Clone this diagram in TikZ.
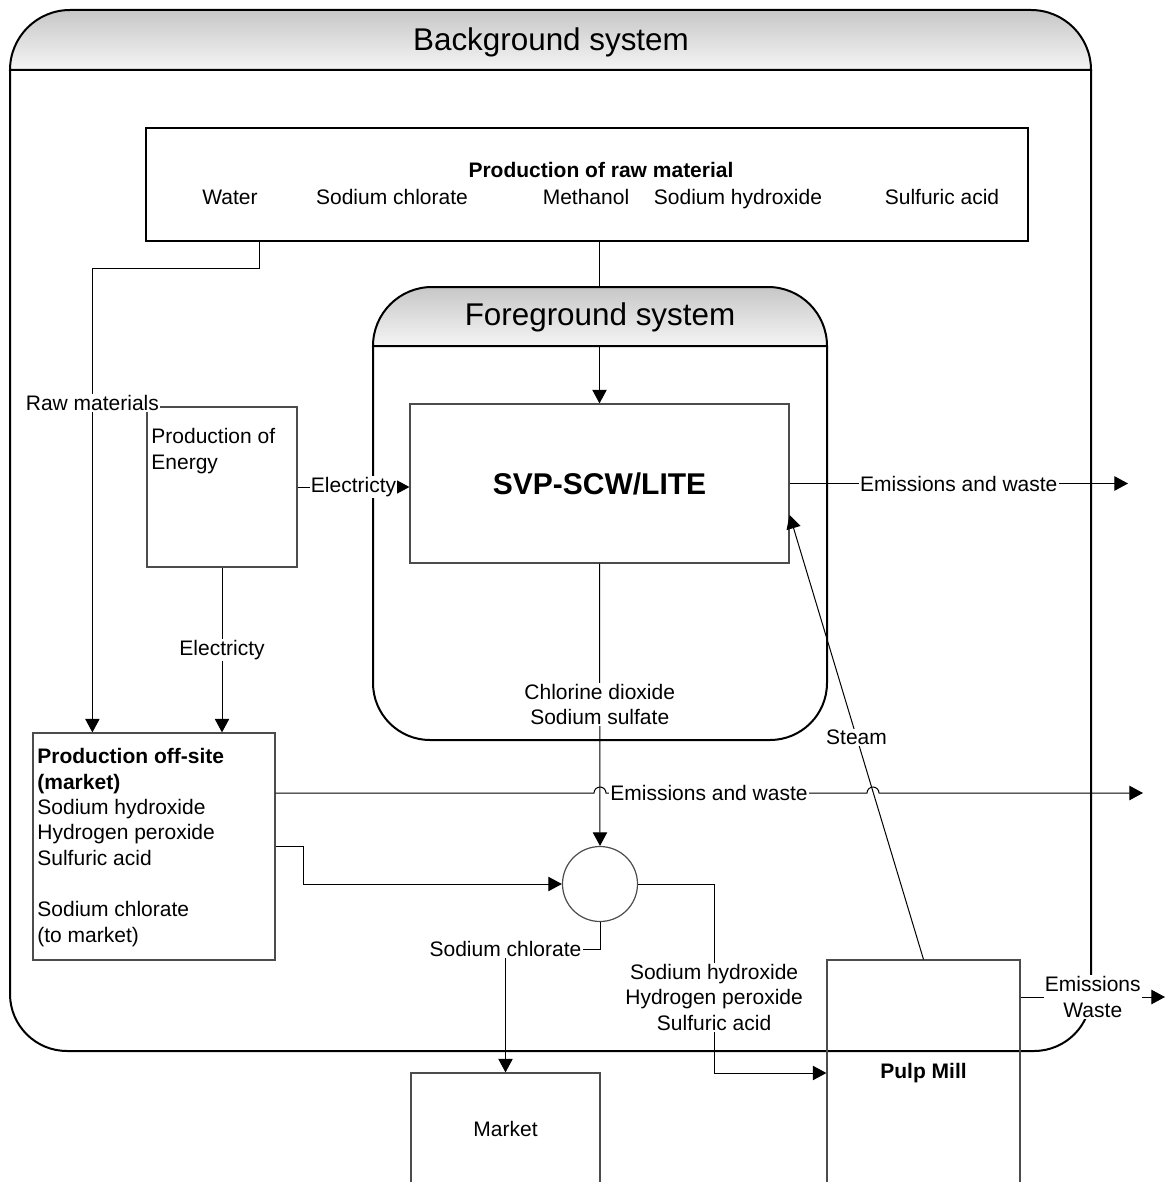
\documentclass[tikz,border=0pt]{standalone}
\usepackage{fontspec}
\setmainfont{Liberation Sans}
\usetikzlibrary{arrows.meta,calc}

\begin{document}
\begin{tikzpicture}[x=0.5pt,y=-0.5pt,
  every node/.style={font=\fontsize{10.5}{12.7}\selectfont},
  box/.style={draw=black!70,line width=0.6pt,rectangle,inner sep=0pt},
  frame/.style={draw=black,line width=1pt},
  head/.style={frame,top color=black!22,bottom color=black!4},
  flow/.style={draw=black,line width=0.5pt,-{Triangle[length=6.8pt,width=7.2pt]}},
  lbl/.style={fill=white,inner sep=0.6pt},
  title/.style={font=\fontsize{15.7}{18}\selectfont,anchor=base},
  item/.style={anchor=base}]
  \clip (0,0) rectangle (1166,1182);
  %
  % background system
  \draw[frame] (10,70) -- (10,994) arc(180:270:28.5pt) -- (1034,1051) arc(270:360:28.5pt) -- (1091,70);
  \path[head] (10,70) arc(180:90:30pt) -- (1031,10) arc(90:0:30pt) -- cycle;
  \node[title] (bgtitle) at (551,51) {Background system};
  %
  % production of raw material
  \node[box,draw=black,line width=0.9pt,minimum width=441pt,minimum height=56.5pt] (raw) at (587,184.5) {};
  \node[item,font=\bfseries\fontsize{10.5}{12.7}\selectfont] (rawtitle) at (601,177.5) {Production of raw material};
  \node[item] (water) at (230,204.5) {Water};
  \node[item] (chlorate) at (392,204.5) {Sodium chlorate};
  \node[item] (methanol) at (586,204.5) {Methanol};
  \node[item] (hydroxide) at (738,204.5) {Sodium hydroxide};
  \node[item] (sulfuric) at (942,204.5) {Sulfuric acid};
  %
  % foreground system
  \node[box,minimum width=189.5pt,minimum height=79.5pt,font=\bfseries\fontsize{15}{18}\selectfont] (svp) at (599.5,483.5) {SVP-SCW/LITE};
  \draw[flow] (svp.north |- raw.south) -- (svp.north);
  \draw[frame] (373,346) -- (373,683) arc(180:270:28.5pt) -- (770,740) arc(270:360:28.5pt) -- (827,346);
  \path[head] (373,346) arc(180:90:29.5pt) -- (768,287) arc(90:0:29.5pt) -- cycle;
  \node[title] (fgtitle) at (600,325.5) {Foreground system};
  %
  % energy and off-site production
  \node[box,minimum width=75pt,minimum height=80pt] (energy) at (222,487) {};
  \node[anchor=north west,align=left,inner sep=0pt] (energytext) at (151,428) {Production of\\Energy};
  \node[box,minimum width=121pt,minimum height=113.5pt] (offsite) at (154,846.5) {};
  \node[anchor=north west,align=left,inner sep=0pt] (offtext) at (37,748) {\textbf{Production off-site}\\\textbf{(market)}\\Sodium hydroxide\\Hydrogen peroxide\\Sulfuric acid\\[13pt]Sodium chlorate\\(to market)};
  %
  % mixing, market, pulp mill
  \node[draw=black!70,line width=0.6pt,circle,minimum size=37.5pt,inner sep=0pt] (mix) at (600,884) {};
  \node[box,minimum width=94.5pt,minimum height=56pt] (market) at (505.5,1129) {Market};
  \node[box,minimum width=96.5pt,minimum height=113pt,font=\bfseries\fontsize{10.5}{12.7}\selectfont] (pulp) at (923.5,1073) {Pulp Mill};
  %
  \coordinate (emisA) at (1128,483.5);
  \coordinate (emisB) at (1143,793);
  \coordinate (emisC) at (1165,997);
  %
  \draw[flow] ([xshift=57pt]raw.south west) -- ++(0,27) -| node[pos=0.645,lbl] (rawmat) {Raw materials} ([xshift=30pt]offsite.north west);
  \draw[flow] (energy.east) -- node[lbl] (elecA) {Electricty} (energy.east -| svp.west);
  \draw[flow] (energy.south) -- node[lbl] (elecB) {Electricty} (energy.south |- offsite.north);
  \draw[flow] (svp.east) -- node[lbl] (wasteA) {Emissions and waste} (emisA);
  \draw[flow] (svp.south) -- node[lbl,align=center] (chlorine) {Chlorine dioxide\\Sodium sulfate} (mix.north);
  \draw[flow] ([yshift=26.75pt]offsite.east) -- (594,793) arc(180:0:3pt) -- (867,793) arc(180:0:3pt) -- (emisB);
  \node[lbl] (wasteB) at (709,793) {Emissions and waste};
  \draw[flow] (offsite.east) -- ++(28,0) |- (mix.west);
  \draw[flow] (mix.south) -- ++(0,27) -| node[pos=0.5,lbl] (nachlorate) {Sodium chlorate} (market.north);
  \draw[flow] (mix.east) -- ++(76,0) |- node[pos=0.3,lbl,align=center] (tomill) {Sodium hydroxide\\Hydrogen peroxide\\Sulfuric acid} (pulp.west);
  \draw[flow] (pulp.north) -- node[lbl] (steam) {Steam} ([yshift=-15.75pt]svp.east);
  \draw[flow] ([yshift=38pt]pulp.east) -- node[lbl,align=center] (wasteC) {Emissions\\Waste} (emisC);
\end{tikzpicture}
\end{document}
